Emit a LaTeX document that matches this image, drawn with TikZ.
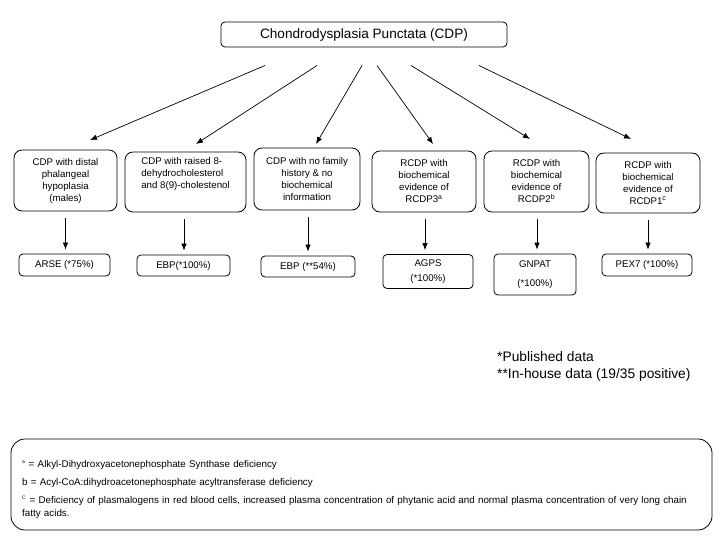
\documentclass[tikz,border=0pt]{standalone}
\usepackage{fontspec}
\setmainfont{Liberation Sans}
\usetikzlibrary{arrows.meta}
\begin{document}
\begin{tikzpicture}[x=1pt,y=-1pt,
  box/.style={draw, line width=0.8pt, rounded corners=8pt, inner sep=0pt,
    align=center, font=\fontsize{9.7}{12}\selectfont},
  gene/.style={draw, line width=0.8pt, rounded corners=4pt, inner sep=0pt,
    align=center, font=\fontsize{9.7}{15}\selectfont},
  arr/.style={line width=0.7pt, -{Latex[length=7pt,width=5.5pt]}}]
\useasboundingbox (0,0) rectangle (720,540);
\node[box, rounded corners=4pt, minimum width=286pt, minimum height=25pt,
  font=\fontsize{13.6}{16}\selectfont] (top) at (364,34.5) {Chondrodysplasia Punctata (CDP)};

\node[box, minimum width=103pt, minimum height=61pt] (c1) at (65.5,180.5)
  {CDP with distal\\phalangeal\\hypoplasia\\(males)};
\node[box, minimum width=121pt, minimum height=60pt, align=left] (c2) at (185.5,182)
  {CDP with raised 8-\\dehydrocholesterol\\and 8(9)-cholestenol\\[6pt]};
\node[box, minimum width=106pt, minimum height=62pt] (c3) at (307,179)
  {CDP with no family\\history \& no\\biochemical\\information};
\node[box, minimum width=104pt, minimum height=61pt] (c4) at (424,181.5)
  {RCDP with\\biochemical\\evidence of\\RCDP3\textsuperscript{\scriptsize a}};
\node[box, minimum width=105pt, minimum height=61pt] (c5) at (536.5,181.5)
  {RCDP with\\biochemical\\evidence of\\RCDP2\textsuperscript{\scriptsize b}};
\node[box, minimum width=104pt, minimum height=60pt] (c6) at (648,183)
  {RCDP with\\biochemical\\evidence of\\RCDP1\textsuperscript{\scriptsize c}};

\node[gene, minimum width=91pt, minimum height=22pt] (g1) at (64.5,265) {ARSE (*75\%)};
\node[gene, minimum width=93pt, minimum height=21pt] (g2) at (183.5,265.5) {EBP(*100\%)};
\node[gene, minimum width=94pt, minimum height=21pt] (g3) at (308,266.5) {EBP (**54\%)};
\node[gene, minimum width=90pt, minimum height=34pt] (g4) at (428,271.5)
  {AGPS\\(*100\%)};
\node[gene, minimum width=82pt, minimum height=41pt, font=\fontsize{9.7}{19}\selectfont] (g5) at (535,274.5)
  {GNPAT\\(*100\%)};
\node[gene, minimum width=90pt, minimum height=22pt] (g6) at (647,265) {PEX7 (*100\%)};

% top arrows
\coordinate (s1) at (265,65.5);
\coordinate (s2) at (317,65.5);
\coordinate (s3) at (362,65.5);
\coordinate (s4) at (377,65.5);
\coordinate (s5) at (411,65.5);
\coordinate (s6) at (479,65.5);
\coordinate (e1) at (90,140);
\coordinate (e2) at (196,144);
\coordinate (e3) at (316,144);
\coordinate (e4) at (433,144);
\coordinate (e5) at (530,139);
\coordinate (e6) at (631,139);
\foreach \i in {1,...,6} { \draw[arr] (s\i) -- (e\i); }

% down arrows
\draw[arr] ([yshift=-7pt]c1.south) -- ([yshift=4pt]c1.south |- g1.north);
\draw[arr] ([xshift=-1.5pt,yshift=-7pt]c2.south) -- ([xshift=-1.5pt,yshift=4pt]c2.south |- g2.north);
\draw[arr] ([xshift=1pt,yshift=-7pt]c3.south) -- ([xshift=1pt,yshift=4pt]c3.south |- g3.north);
\draw[arr] ([xshift=1pt,yshift=-7pt]c4.south) -- ([xshift=1pt,yshift=4pt]c4.south |- g4.north);
\draw[arr] ([xshift=0.5pt,yshift=-7pt]c5.south) -- ([xshift=0.5pt,yshift=4pt]c5.south |- g5.north);
\draw[arr] ([yshift=-7pt]c6.south) -- ([yshift=4pt]c6.south |- g6.north);

% legend
\node[anchor=north west, align=left, inner sep=0pt, font=\fontsize{13.8}{17}\selectfont] (leg) at (497,351)
  {*Published data\\**In-house data (19/35 positive)};

% footnotes box
\node[draw, line width=0.8pt, rounded corners=14pt, minimum width=701pt, minimum height=91pt, inner sep=0pt] (fn) at (361.5,484.5) {};
\node[anchor=north west, align=left, inner sep=0pt, text width=690pt,
  font=\fontsize{9.8}{13.5}\selectfont] (fntext) at (22,460)
  {\textsuperscript{\tiny a} = Alkyl-Dihydroxyacetonephosphate Synthase deficiency\\[4.5pt]
   b = Acyl-CoA:dihydroacetonephosphate acyltransferase deficiency\\[4.5pt]
   \textsuperscript{\tiny C} = Deficiency of plasmalogens in red blood cells, increased plasma concentration of phytanic acid and normal plasma concentration of very long chain\\
   fatty acids.};
\end{tikzpicture}
\end{document}
